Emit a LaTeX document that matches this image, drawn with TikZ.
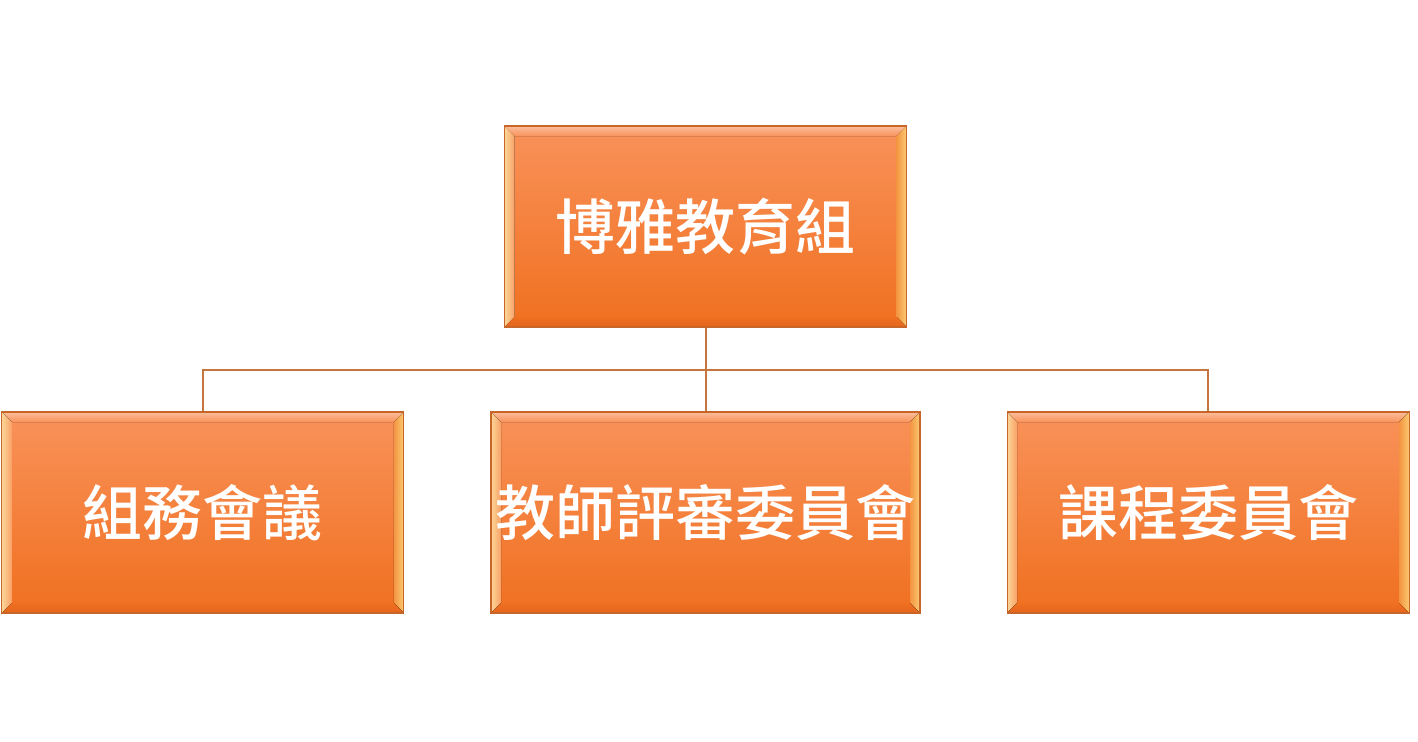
\documentclass[tikz,border=0pt]{standalone}
\usepackage{fontspec}
\newfontfamily\cjk{Noto Sans CJK TC}[BoldFont={Noto Sans CJK TC Medium}]
\usetikzlibrary{positioning}

\definecolor{boxlight}{HTML}{F9925A}
\definecolor{boxdark}{HTML}{F07020}
\definecolor{boxedge}{HTML}{C8662A}
\definecolor{bevelpale}{HTML}{FBD698}
\definecolor{bevelsun}{HTML}{FACB72}
\definecolor{beveldeep}{HTML}{E4661C}
\definecolor{linkline}{HTML}{C4763E}

\tikzset{
  orgbox/.style={
    draw=boxedge, line width=0.6pt, inner sep=0pt,
    minimum width=201pt, minimum height=100.5pt,
    top color=boxlight, bottom color=boxdark,
    text=white, font=\cjk\bfseries\fontsize{30}{36}\selectfont,
    path picture={
      \coordinate (nw) at (path picture bounding box.north west);
      \coordinate (ne) at (path picture bounding box.north east);
      \coordinate (sw) at (path picture bounding box.south west);
      \coordinate (se) at (path picture bounding box.south east);
      % bevel edges
      \fill[top color=boxlight!60!white, bottom color=boxlight]
        (nw) -- (ne) -- ([shift={(-5pt,-5pt)}]ne)
        -- ([shift={(5pt,-5pt)}]nw) -- cycle;
      \fill[left color=bevelpale, right color=boxlight!80!bevelpale]
        (nw) -- ([shift={(5pt,-5pt)}]nw)
        -- ([shift={(5pt,5pt)}]sw) -- (sw) -- cycle;
      \fill[left color=boxdark!60!bevelsun, right color=bevelsun]
        (ne) -- ([shift={(-5pt,-5pt)}]ne)
        -- ([shift={(-5pt,5pt)}]se) -- (se) -- cycle;
      \fill[top color=boxdark, bottom color=beveldeep]
        (sw) -- ([shift={(5pt,5pt)}]sw)
        -- ([shift={(-5pt,5pt)}]se) -- (se) -- cycle;
    }},
  link/.style={draw=linkline, line width=1pt}
}

\begin{document}
\begin{tikzpicture}[x=0.5pt, y=-0.5pt]

  \useasboundingbox (0,0) rectangle (1418,741);

  \node [orgbox] (head) at (705.5,226.5) {博雅教育組};

  \node [orgbox, minimum width=214.5pt] (review) at (705.5,512.5)
    {教師評審委員會};
  \node [orgbox, left=43pt of review] (affairs) {組務會議};
  \node [orgbox, right=43pt of review] (course) {課程委員會};

  \coordinate (bus) at (705.5,370);

  \draw [link] (head.south) -- (bus);
  \draw [link] (bus) -| (affairs.north);
  \draw [link] (bus) -- (review.north);
  \draw [link] (bus) -| (course.north);

\end{tikzpicture}
\end{document}
